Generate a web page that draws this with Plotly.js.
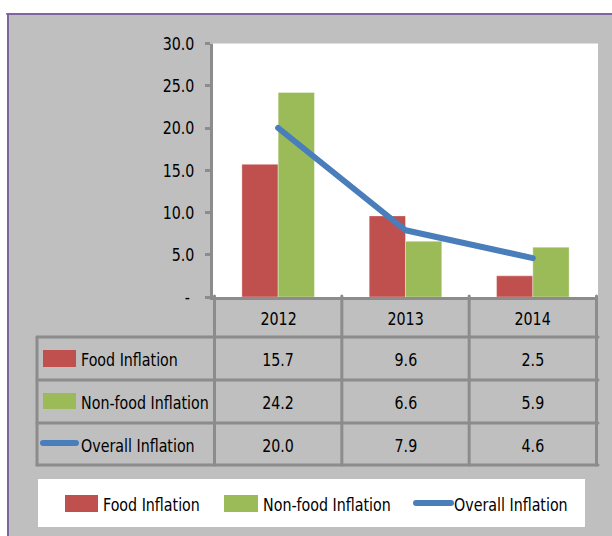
<!DOCTYPE html>
<html>
<head>
<meta charset="utf-8">
<script src="https://cdn.plot.ly/plotly-3.0.1.min.js"></script>
<style>
html,body{margin:0;padding:0;background:#fff;}
#chart{width:612px;height:536px;}
.shapelayer path{stroke-linecap:round;}
.scatterlayer .js-line{stroke-linecap:round;stroke-linejoin:round;}
</style>
</head>
<body>
<div id="chart"></div>
<script>
// ---- data ----
var categories = ['2012', '2013', '2014'];
var seriesNames = ['Food Inflation', 'Non-food Inflation', 'Overall Inflation'];
var foodInflation = [15.7, 9.6, 2.5];
var nonFoodInflation = [24.2, 6.6, 5.9];
var overallInflation = [20.0, 7.9, 4.6];
var yTickVals = [0, 5, 10, 15, 20, 25, 30];
var yTickText = ['-\u00a0', '5.0', '10.0', '15.0', '20.0', '25.0', '30.0'];

// ---- style ----
var W = 612, H = 536;
var RED = '#c0504d', GREEN = '#9bbb59', BLUE = '#4a7ebb';
var GRID = '#8c8c8c', BG = '#bfbfbf', PURPLE = '#8064a2';
var FONT = '"DejaVu Sans Condensed", "DejaVu Sans", sans-serif';
var NARROW = 0.88; // horizontal squeeze to mimic the narrow original face
function px(x) { return x / W; }
function py(y) { return 1 - y / H; }

var plotL = 213, plotR = 598, plotT = 43.5, plotB = 297;

var traces = [
  { type: 'bar', name: seriesNames[0], x: categories, y: foodInflation,
    marker: { color: RED, line: { color: 'rgba(255,255,255,0.35)', width: 1 } }, hoverinfo: 'skip' },
  { type: 'bar', name: seriesNames[1], x: categories, y: nonFoodInflation,
    marker: { color: GREEN, line: { color: 'rgba(255,255,255,0.35)', width: 1 } }, hoverinfo: 'skip' },
  { type: 'scatter', mode: 'lines', name: seriesNames[2], x: categories, y: overallInflation,
    line: { color: BLUE, width: 6 }, hoverinfo: 'skip' }
];

var shapes = [];
shapes.push({ type: 'rect', xref: 'paper', yref: 'paper', layer: 'below',
  x0: px(8), x1: px(630), y0: py(545), y1: py(14), fillcolor: BG, line: { width: 0 } });
shapes.push({ type: 'rect', xref: 'paper', yref: 'paper', layer: 'below',
  x0: px(plotL), x1: px(plotR), y0: py(plotB), y1: py(plotT), fillcolor: '#ffffff', line: { width: 0 } });
shapes.push({ type: 'line', xref: 'paper', yref: 'paper', x0: px(7), x1: px(640), y0: py(14), y1: py(14),
  line: { color: PURPLE, width: 2 } });
shapes.push({ type: 'line', xref: 'paper', yref: 'paper', x0: px(8), x1: px(8), y0: py(14), y1: py(545),
  line: { color: PURPLE, width: 2 } });

var rowLines = [337, 380, 423, 465];
rowLines.forEach(function (y) {
  shapes.push({ type: 'line', xref: 'paper', yref: 'paper', x0: px(37), x1: px(plotR), y0: py(y), y1: py(y),
    line: { color: GRID, width: 3 } });
});
shapes.push({ type: 'line', xref: 'paper', yref: 'paper', x0: px(37), x1: px(37), y0: py(337), y1: py(465),
  line: { color: GRID, width: 3 } });
for (var k = 0; k <= categories.length; k++) {
  shapes.push({ type: 'line', xref: 'x', yref: 'paper', x0: k - 0.5, x1: k - 0.5, y0: py(296), y1: py(465),
    line: { color: GRID, width: 3 } });
}
shapes.push({ type: 'rect', xref: 'paper', yref: 'paper', x0: px(43), x1: px(76), y0: py(367), y1: py(350),
  fillcolor: RED, line: { width: 0 } });
shapes.push({ type: 'rect', xref: 'paper', yref: 'paper', x0: px(43), x1: px(76), y0: py(409), y1: py(393),
  fillcolor: GREEN, line: { width: 0 } });
shapes.push({ type: 'line', xref: 'paper', yref: 'paper', x0: px(43), x1: px(76), y0: py(443), y1: py(443),
  line: { color: BLUE, width: 6 } });

shapes.push({ type: 'rect', xref: 'paper', yref: 'paper', x0: px(38), x1: px(585), y0: py(527), y1: py(479),
  fillcolor: '#ffffff', line: { width: 0 } });
shapes.push({ type: 'rect', xref: 'paper', yref: 'paper', x0: px(65), x1: px(98), y0: py(512), y1: py(495),
  fillcolor: RED, line: { width: 0 } });
shapes.push({ type: 'rect', xref: 'paper', yref: 'paper', x0: px(224), x1: px(258), y0: py(512), y1: py(495),
  fillcolor: GREEN, line: { width: 0 } });
shapes.push({ type: 'line', xref: 'paper', yref: 'paper', x0: px(416), x1: px(451), y0: py(503), y1: py(503),
  line: { color: BLUE, width: 6 } });

var annotations = [];
var tfont = { family: FONT, size: 18, color: '#000' };
function ann(x, xref, y, text, xanchor) {
  annotations.push({ x: x, xref: xref, y: py(y), yref: 'paper', text: text, showarrow: false,
    xanchor: xanchor || 'center', yanchor: 'middle', font: tfont });
}
categories.forEach(function (c, i) { ann(i, 'x', 318, c); });
var rowsData = [foodInflation, nonFoodInflation, overallInflation];
var rowCenters = [359, 402, 445];
rowsData.forEach(function (arr, r) {
  ann(px(79), 'paper', rowCenters[r], seriesNames[r], 'left');
  arr.forEach(function (v, i) { ann(i, 'x', rowCenters[r], v.toFixed(1)); });
});
ann(px(101), 'paper', 504, seriesNames[0], 'left');
ann(px(261), 'paper', 504, seriesNames[1], 'left');
ann(px(452), 'paper', 504, seriesNames[2], 'left');

var layout = {
  width: W, height: H,
  margin: { l: 0, r: 0, t: 0, b: 0 },
  paper_bgcolor: '#ffffff', plot_bgcolor: 'rgba(0,0,0,0)',
  showlegend: false,
  barmode: 'group', bargap: 0.43, bargroupgap: 0,
  xaxis: {
    domain: [px(plotL), px(plotR)], type: 'category', showticklabels: false, ticks: '',
    showline: true, linecolor: GRID, linewidth: 3, showgrid: false, zeroline: false, fixedrange: true
  },
  yaxis: {
    domain: [py(plotB), py(plotT)], range: [0, 30], tickvals: yTickVals, ticktext: yTickText,
    ticks: 'outside', ticklen: 5, tickwidth: 3, tickcolor: GRID, ticklabelstandoff: 11,
    showline: true, linecolor: GRID, linewidth: 3, showgrid: false, zeroline: false,
    tickfont: { family: FONT, size: 18, color: '#000' }, fixedrange: true
  },
  shapes: shapes,
  annotations: annotations
};

function squeeze(el, mode, dx) {
  var bb = el.getBBox();
  var m = el.transform && el.transform.baseVal.numberOfItems ? el.transform.baseVal.consolidate().matrix : null;
  var a = m ? m.a : 1, e = m ? m.e : 0;
  var lx = mode === 'left' ? bb.x : (mode === 'right' ? bb.x + bb.width : bb.x + bb.width / 2);
  var ax = lx * a + e;
  var existing = el.getAttribute('transform') || '';
  el.setAttribute('transform', 'translate(' + (ax + (dx || 0)) + ',0) scale(' + NARROW + ',1) translate(' + (-ax) + ',0) ' + existing);
}

Plotly.newPlot('chart', traces, layout, { displayModeBar: false, staticPlot: true }).then(function (gd) {
  gd.querySelectorAll('.annotation-text').forEach(function (t, i) {
    squeeze(t, annotations[i] && annotations[i].xanchor === 'left' ? 'left' : 'center');
  });
  gd.querySelectorAll('.ytick text').forEach(function (t) { squeeze(t, 'right', 4); });
});
</script>
</body>
</html>
